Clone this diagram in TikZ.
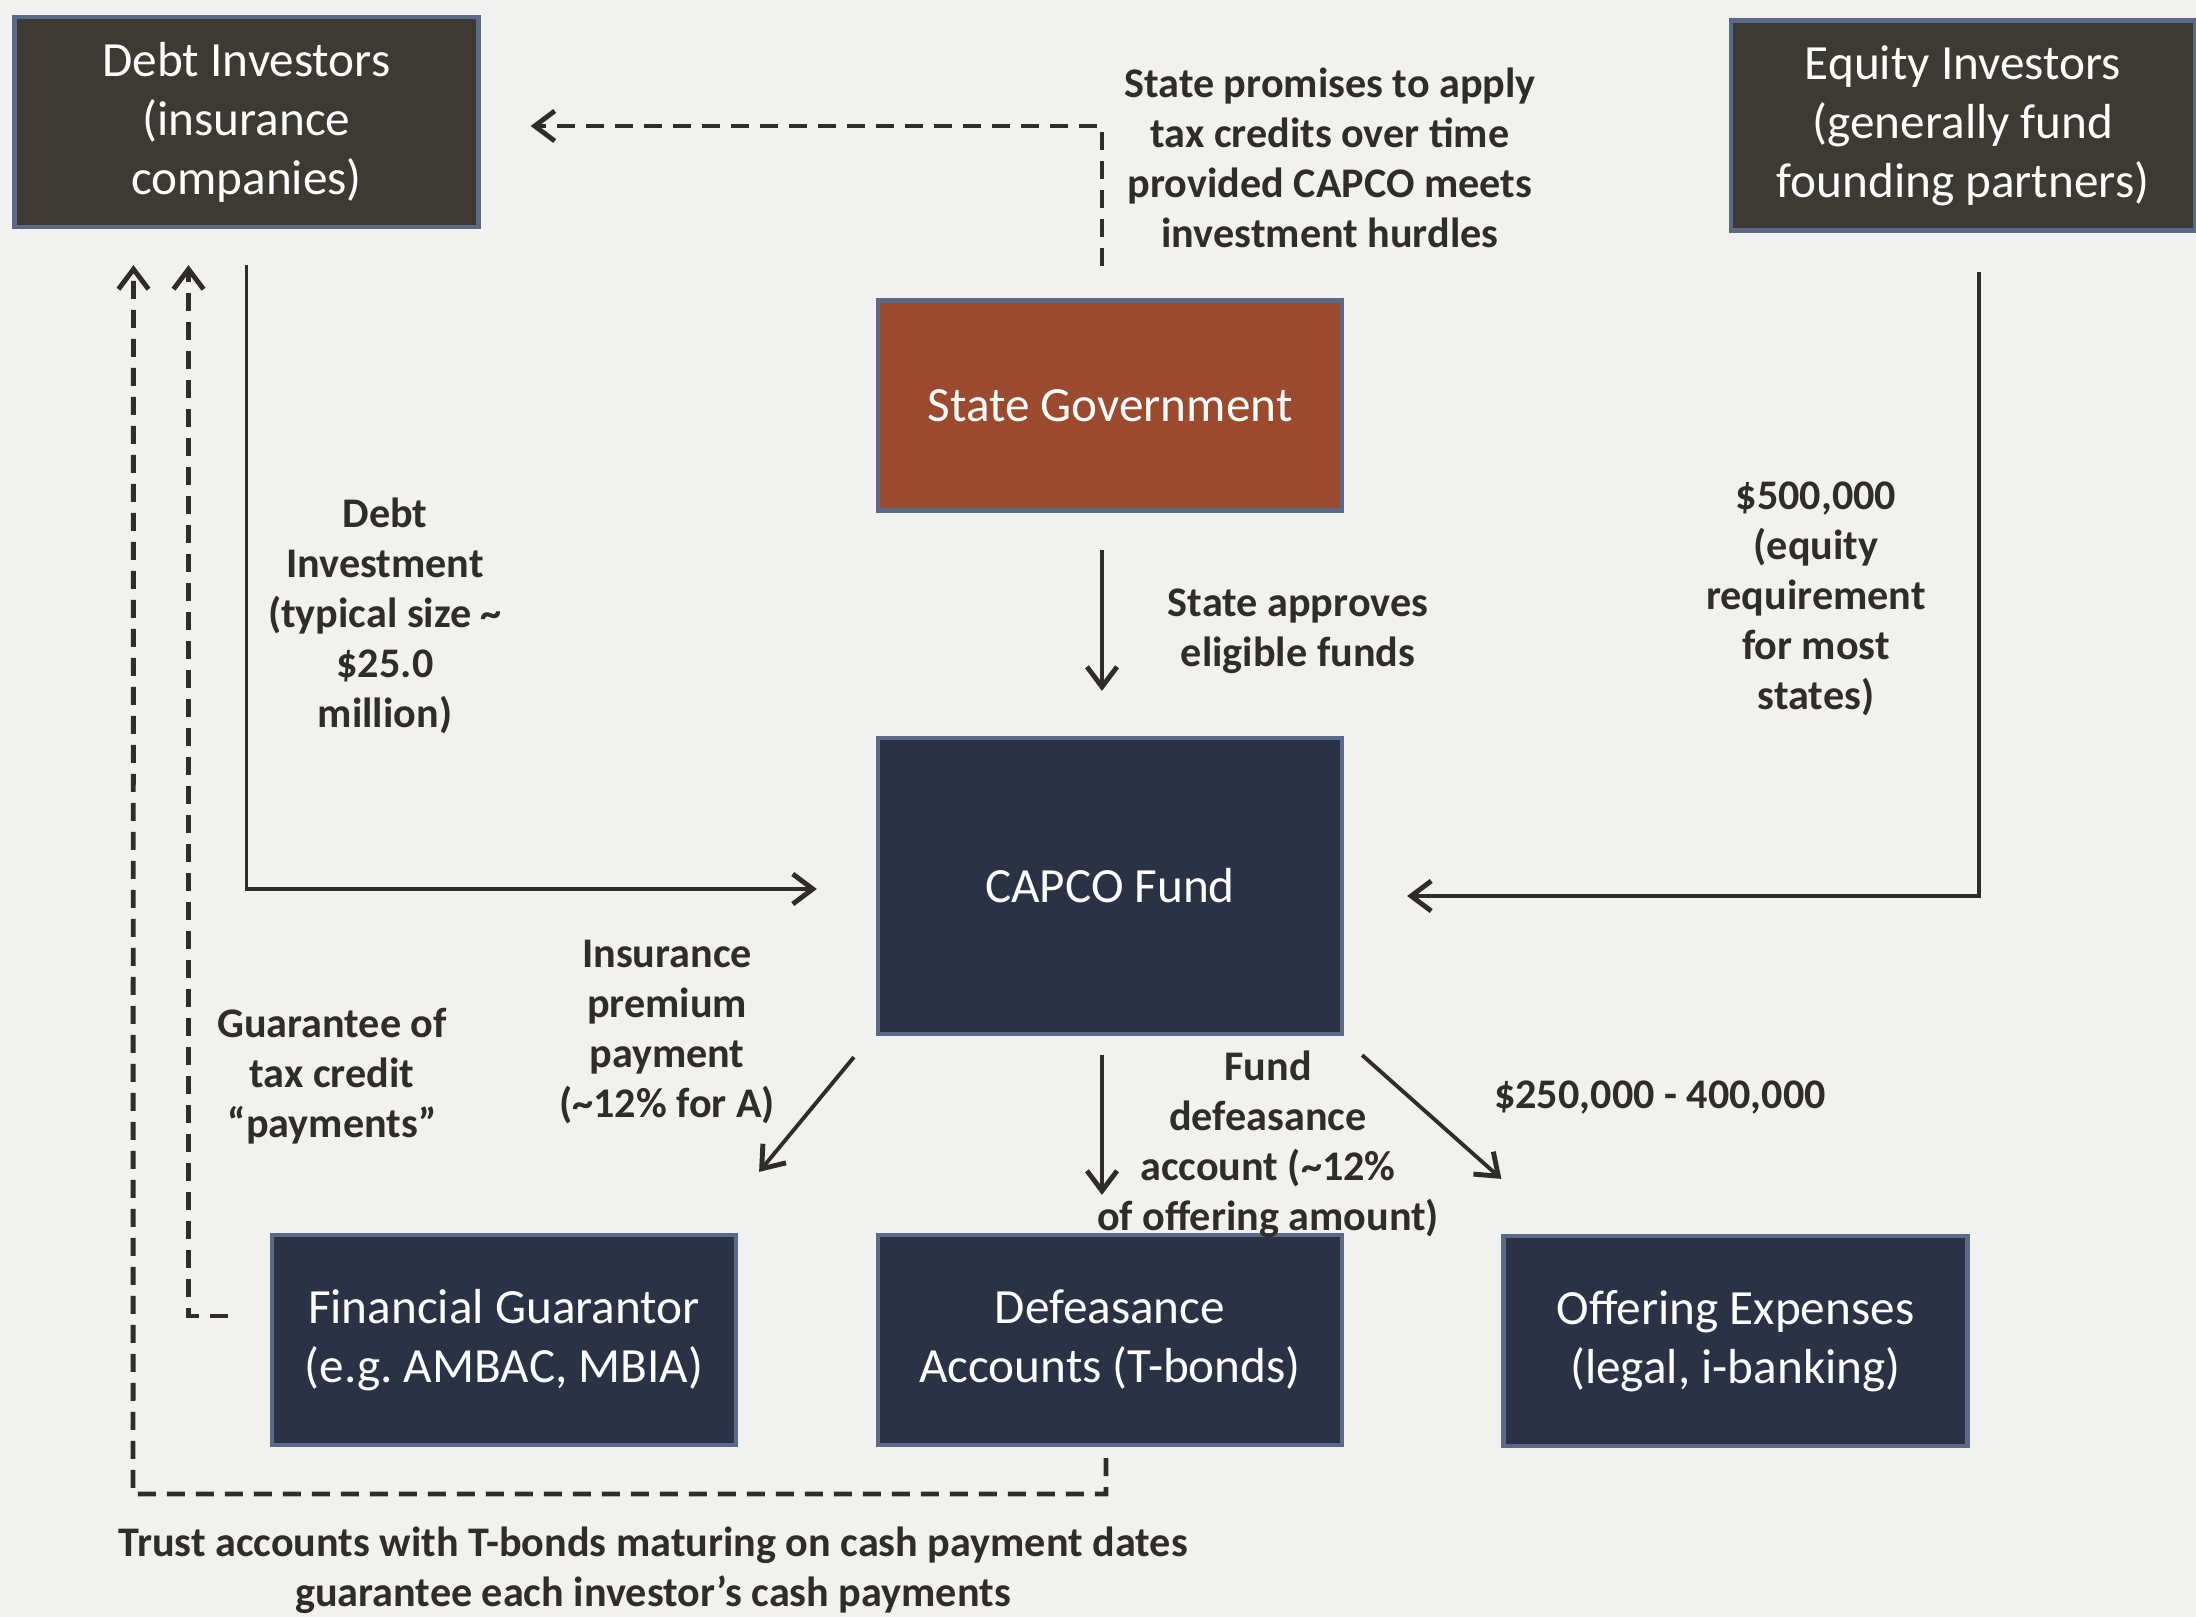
\documentclass[tikz,border=0pt]{standalone}
\usepackage{fontspec}
\setmainfont{Carlito}
\usetikzlibrary{arrows.meta, positioning}

\definecolor{paper}{HTML}{F1F1F0}
\definecolor{investorfill}{HTML}{3D3A34}
\definecolor{statefill}{HTML}{9C4A2D}
\definecolor{fundfill}{HTML}{2C3245}
\definecolor{boxedge}{HTML}{5A6A88}
\definecolor{ink}{HTML}{2E2D2A}

\begin{document}
\begin{tikzpicture}[
    investorbox/.style={rectangle, draw=boxedge, line width=1.2pt, fill=investorfill, text=white, minimum width=4.64cm, minimum height=2.1cm, align=center, font=\fontsize{14}{16.8}\selectfont},
    statebox/.style={investorbox, fill=statefill},
    fundbox/.style={investorbox, fill=fundfill},
    flowlabel/.style={align=center, text=ink, font=\bfseries\fontsize{12}{14.2}\selectfont},
    arrow/.style={-{Straight Barb[length=2mm, width=3mm, line width=1.4pt]}, line width=1.1pt, draw=ink},
    dasharrow/.style={arrow, line width=1.4pt, dash pattern=on 1.8mm off 1.1mm}
]
\useasboundingbox[fill=paper] (0,0) rectangle (21.96,-16.17);

% Investors
\node[investorbox] (debt) at (2.465,-1.22) {Debt Investors\\(insurance\\companies)};
\node[investorbox] (equity) at (19.63,-1.255) {Equity Investors\\(generally fund\\founding partners)};

% State and fund
\node[statebox] (state) at (11.10,-4.055) {State Government};
\node[fundbox, minimum height=2.96cm] (capco) at (11.10,-8.86) {CAPCO Fund};

% Uses of the fund
\node[fundbox] (guarantor) at (5.04,-13.40) {Financial Guarantor\\(e.g.\ AMBAC, MBIA)};
\node[fundbox] (defeasance) at (11.10,-13.40) {Defeasance\\Accounts (T-bonds)};
\node[fundbox] (offering) at (17.355,-13.41) {Offering Expenses\\(legal, i-banking)};

% Flow labels
\node[flowlabel] (promise) at (13.30,-1.58) {State promises to apply\\tax credits over time\\provided CAPCO meets\\investment hurdles};
\node[flowlabel] (approves) at (12.98,-6.31) {State approves\\eligible funds};
\node[flowlabel] (debtinv) at (3.85,-6.16) {Debt\\Investment\\(typical size \textasciitilde\\\$25.0\\million)};
\node[flowlabel] (equityreq) at (18.16,-5.99) {\$500,000\\(equity\\requirement\\for most\\states)};
\node[flowlabel] (premium) at (6.67,-10.32) {Insurance\\premium\\payment\\(\textasciitilde12\% for A)};
\node[flowlabel] (guarantee) at (3.32,-10.76) {Guarantee of\\tax credit\\“payments”};
\node[flowlabel] (funddef) at (12.68,-11.44) {Fund\\defeasance\\account (\textasciitilde12\%\\of offering amount)};
\node[flowlabel] (expenses) at (16.60,-10.98) {\$250,000 - 400,000};
\node[flowlabel] (trust) at (6.53,-15.70) {Trust accounts with T-bonds maturing on cash payment dates\\guarantee each investor’s cash payments};

% Connectors
\coordinate (promisestart) at (11.02,-2.66);
\draw[dasharrow] (promisestart) |- ([xshift=5mm,yshift=-0.4mm]debt.east);
\draw[arrow] ([xshift=-0.8mm,yshift=-3.7mm]state.south) -- ([xshift=-0.8mm,yshift=4.5mm]capco.north);
\draw[arrow] ([yshift=-3.6mm]debt.south) |- ([xshift=-5.9mm,yshift=-0.3mm]capco.west);
\draw[arrow] ([xshift=1.6mm,yshift=-3.9mm]equity.south) |- ([xshift=6.3mm,yshift=-1mm]capco.east);
\draw[arrow] ([xshift=-2.2mm,yshift=-2.1mm]capco.south west) -- ([xshift=2.1mm,yshift=6.1mm]guarantor.north east);
\draw[arrow] ([xshift=-0.8mm,yshift=-1.9mm]capco.south) -- ([xshift=-0.8mm,yshift=3.8mm]defeasance.north);
\draw[arrow] ([xshift=1.8mm,yshift=-1.9mm]capco.south east) -- ([xshift=0mm,yshift=5.5mm]offering.north west);
\draw[dasharrow] ([xshift=-4.2mm,yshift=2.4mm]guarantor.west) -| ([xshift=-5.8mm,yshift=-3.6mm]debt.south);
\draw[dasharrow] ([xshift=-0.4mm,yshift=-1.1mm]defeasance.south) |- (1.33,-14.94) -- ([xshift=-11.3mm,yshift=-3.6mm]debt.south);

\end{tikzpicture}
\end{document}
